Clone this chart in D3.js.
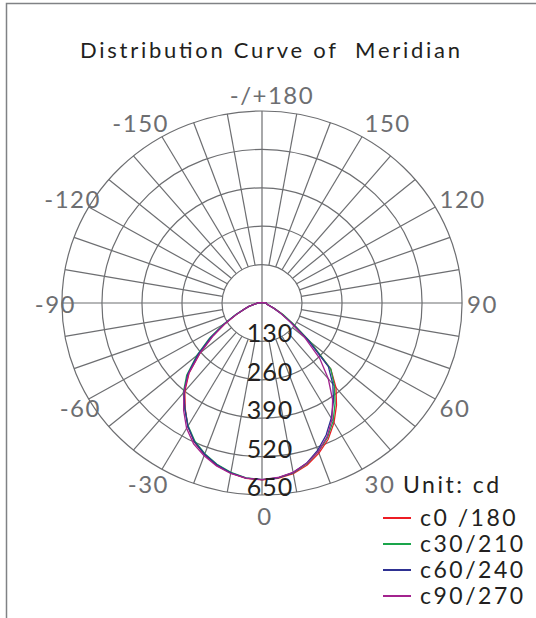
<!DOCTYPE html>
<html lang="en">
<head>
<meta charset="UTF-8">
<title>Distribution Curve of Meridian</title>
<script src="https://d3js.org/d3.v7.min.js"></script>
<style>
    body { margin: 0; background: #fff; }
    svg { display: block; font-family: Lato, "Open Sans", sans-serif; }
    .frame { fill: none; stroke: #808285; stroke-width: 1.5px; }
    .grid { fill: none; stroke: #6d6e71; stroke-width: 1.2px; vector-effect: non-scaling-stroke; }
    .angle-label { fill: #6d6e71; font-size: 24px; dominant-baseline: central; letter-spacing: 1.5px; }
    .value-label { fill: #231f20; font-size: 25px; text-anchor: middle; letter-spacing: 1px; }
    .title { fill: #231f20; font-size: 22px; white-space: pre; }
    .legend text { fill: #231f20; font-size: 23px; letter-spacing: 2.5px; }
    .curve { fill: none; stroke-width: 1.3px; vector-effect: non-scaling-stroke; }
</style>
</head>
<body>
<script>
// DATA (cd, angles in degrees, 0 = straight down)
const angles = [-100, -95, -90, -85, -80, -75, -70, -65, -60, -55, -50, -45, -40, -35, -30, -25, -20, -15, -10, -5,
    0, 5, 10, 15, 20, 25, 30, 35, 40, 45, 50, 55, 60, 65, 70, 75, 80, 85, 90, 95, 100];

const c0 = [5, 12, 16, 17, 24, 44, 61, 92, 136, 197, 262, 335, 390, 435, 482, 520, 546, 569, 585, 596,
    599, 596, 587, 568, 541, 509, 468, 422, 374, 316, 200, 120, 75, 45, 25, 18, 15, 14, 14, 10, 5];
const c30 = [5, 12, 16, 17, 24, 44, 62, 95, 145, 208, 276, 346, 398, 437, 480, 516, 543, 565, 582, 594,
    598, 594, 584, 563, 535, 503, 462, 414, 366, 316, 205, 126, 80, 45, 25, 18, 15, 14, 14, 10, 5];
const c60 = [5, 12, 16, 17, 24, 44, 61, 94, 142, 203, 271, 341, 394, 437, 482, 519, 545, 567, 584, 595,
    598, 594, 583, 561, 530, 493, 450, 405, 358, 305, 195, 115, 72, 43, 24, 18, 15, 14, 14, 10, 5];
const c90 = [5, 12, 16, 17, 24, 44, 60, 92, 138, 193, 262, 336, 395, 444, 490, 526, 550, 571, 586, 595,
    598, 593, 582, 562, 535, 500, 455, 400, 335, 265, 180, 110, 70, 42, 24, 18, 15, 14, 14, 10, 5];

const seriesNames = ["c0 /180", "c30/210", "c60/240", "c90/270"];
const seriesColors = ["#ed1c24", "#1aa54b", "#2e3192", "#a3238e"];
const seriesValues = [c0, c30, c60, c90];

const ringTicks = [130, 260, 390, 520, 650];
const angleTicks = [-150, -120, -90, -60, -30, 0, 30, 60, 90, 120, 150, 180];
const angleTickText = ["-150", "-120", "-90", "-60", "-30", "0", "30", "60", "90", "120", "150", "-/+180"];

// LAYOUT
const width = 536, height = 618;
const cx = 262, cy = 303;
const stretchX = 1.042;   // the original plot is a touch wider than tall
const rad = d => d * Math.PI / 180;

const r = d3.scaleLinear().domain([0, 650]).range([0, 192]);

const svg = d3.select("body").append("svg")
    .attr("width", width)
    .attr("height", height);

svg.append("rect").attr("width", width).attr("height", height).attr("fill", "#fff");

// frame (top + left edge)
svg.append("path").attr("class", "frame").attr("d", "M6.5,618V3.5H536");

// title
svg.append("text")
    .attr("class", "title")
    .attr("x", 80)
    .attr("y", 58)
    .attr("textLength", 380)
    .attr("lengthAdjust", "spacing")
    .text("Distribution Curve of  Meridian");

const plot = svg.append("g")
    .attr("transform", `translate(${cx},${cy}) scale(${stretchX},1)`);

// rings
plot.selectAll(".ring")
    .data(ringTicks)
    .join("circle")
    .attr("class", "grid")
    .attr("r", d => r(d));

// spokes every 10 degrees, from the first ring outwards; axes go through the middle
const spokes = d3.range(-170, 190, 10);
plot.selectAll(".spoke")
    .data(spokes)
    .join("line")
    .attr("class", "grid")
    .attr("x1", d => (d % 90 === 0 ? 0 : r(130)) * Math.sin(rad(d)))
    .attr("y1", d => (d % 90 === 0 ? 0 : r(130)) * Math.cos(rad(d)))
    .attr("x2", d => r(650) * Math.sin(rad(d)))
    .attr("y2", d => r(650) * Math.cos(rad(d)));

// curves
const radial = d3.lineRadial()
    .angle((d, i) => Math.PI - rad(angles[i]))
    .radius(d => r(d))
    .curve(d3.curveLinearClosed);

plot.selectAll(".curve")
    .data(seriesValues)
    .join("path")
    .attr("class", "curve")
    .attr("stroke", (d, i) => seriesColors[i])
    .attr("d", d => radial(d));

// value labels along the lower axis
svg.selectAll(".value-label")
    .data(ringTicks)
    .join("text")
    .attr("class", "value-label")
    .attr("x", cx + 8)
    .attr("y", d => cy + r(d) + 1)
    .text(d => d);

// angle labels: right side starts outside the rim, left side ends outside it
const side = d => (d === 0 || d === 180) ? 0 : Math.sign(d);
svg.selectAll(".angle-label")
    .data(angleTicks)
    .join("text")
    .attr("class", "angle-label")
    .attr("text-anchor", d => side(d) > 0 ? "start" : side(d) < 0 ? "end" : "middle")
    .attr("x", d => side(d) > 0 ? cx + 205 * Math.sin(rad(d))
        : side(d) < 0 ? cx + 186 * Math.sin(rad(d))
        : cx + (d === 180 ? 10 : 3))
    .attr("y", d => cy + (d === 0 ? 212 : 209 * Math.cos(rad(d))))
    .text((d, i) => angleTickText[i]);

// legend
const legend = svg.append("g").attr("class", "legend");
legend.append("text").attr("x", 403).attr("y", 493).attr("letter-spacing", "1px").text("Unit: cd");

const rows = legend.selectAll(".row")
    .data(seriesNames)
    .join("g")
    .attr("transform", (d, i) => `translate(0,${518 + i * 26})`);

rows.append("line")
    .attr("x1", 383).attr("x2", 411)
    .attr("stroke", (d, i) => seriesColors[i])
    .attr("stroke-width", 2);

rows.append("text")
    .attr("x", 420)
    .attr("y", 8)
    .text(d => d);
</script>
</body>
</html>
